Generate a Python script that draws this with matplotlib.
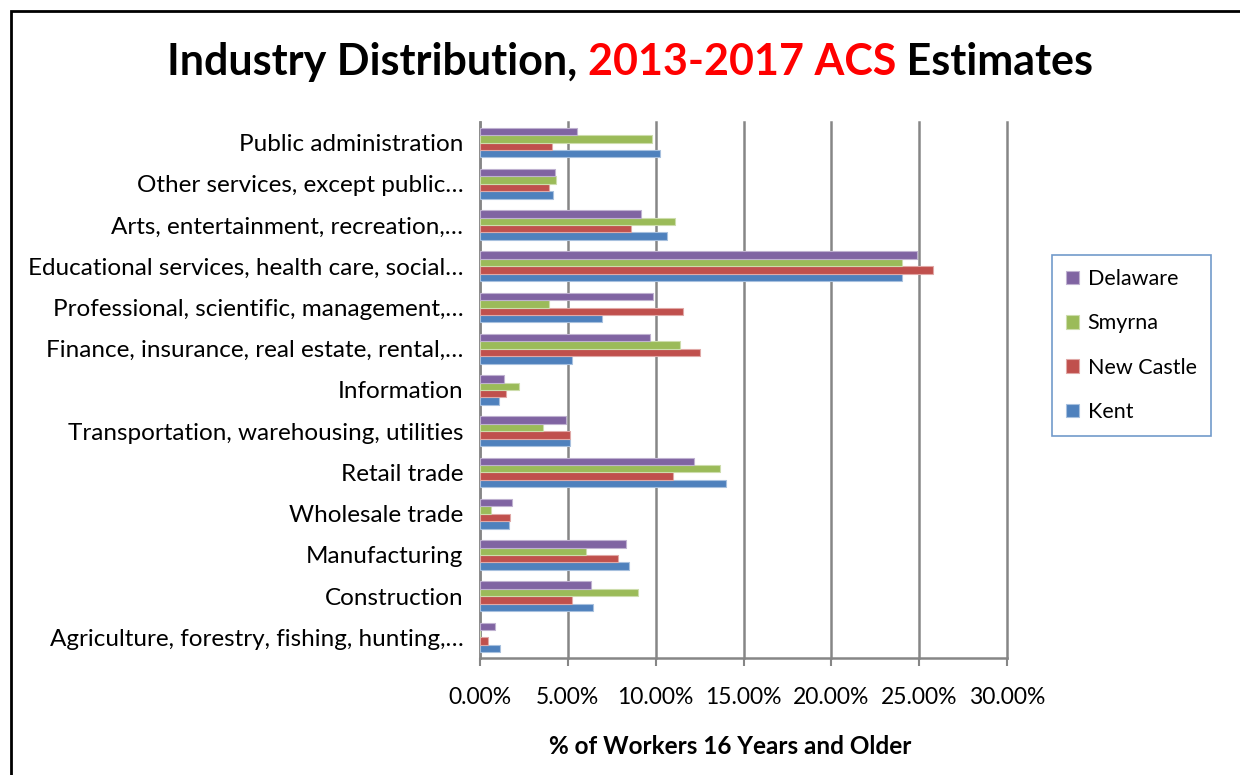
import numpy as np
import matplotlib
matplotlib.use("Agg")
from matplotlib import pyplot as plt
from matplotlib.patches import Rectangle

plt.rcParams['font.family'] = ['Lato', 'DejaVu Sans']

# kategorije odozdo prema gore
kategorije = [
    "Agriculture, forestry, fishing, hunting,…",
    "Construction",
    "Manufacturing",
    "Wholesale trade",
    "Retail trade",
    "Transportation, warehousing, utilities",
    "Information",
    "Finance, insurance, real estate, rental,…",
    "Professional, scientific, management,…",
    "Educational services, health care, social…",
    "Arts, entertainment, recreation,…",
    "Other services, except public…",
    "Public administration",
]

# postoci radnika po okrugu
kent = [1.12, 6.46, 8.47, 1.67, 14.03, 5.13, 1.08, 5.22, 6.93, 24.04, 10.65, 4.18, 10.27]
new_castle = [0.46, 5.24, 7.88, 1.69, 10.96, 5.15, 1.50, 12.51, 11.53, 25.77, 8.58, 3.91, 4.08]
smyrna = [0.0, 9.00, 6.06, 0.64, 13.67, 3.59, 2.20, 11.41, 3.95, 24.04, 11.11, 4.35, 9.80]
delaware = [0.83, 6.34, 8.32, 1.84, 12.19, 4.92, 1.35, 9.70, 9.87, 24.88, 9.19, 4.29, 5.53]

serije = ["Kent", "New Castle", "Smyrna", "Delaware"]
vrijednosti = [kent, new_castle, smyrna, delaware]
boje = ["#4F81BD", "#C0504D", "#9BBB59", "#8064A2"]
rubovi = ["#A7C0DE", "#E0A8A6", "#CDDDAC", "#BFB1D0"]

x_ticks = [0, 5, 10, 15, 20, 25, 30]

fig = plt.figure(figsize=(12.4, 7.75), dpi=100)
ax = fig.add_axes([480 / 1240, 1 - 658 / 775, 527 / 1240, 536 / 775])

y = np.arange(len(kategorije))
h = 0.18
for i, (ime, vals, c, e) in enumerate(zip(serije, vrijednosti, boje, rubovi)):
    ax.barh(y + (i - 1.5) * h, vals, height=h, color=c, edgecolor=e,
            linewidth=0.8, label=ime, zorder=3)

ax.set_xlim(0, 30)
ax.set_ylim(-0.5, len(kategorije) - 0.5)
ax.set_xticks(x_ticks)
ax.set_xticklabels([f"{t:.2f}%" for t in x_ticks], fontsize=16.5)
ax.set_yticks(y)
ax.set_yticklabels(kategorije, fontsize=17.5)
ax.tick_params(axis='y', length=0, pad=12)
ax.tick_params(axis='x', length=6, width=1.5, color="#868686", pad=15)
ax.grid(axis='x', color="#868686", linewidth=1.8, zorder=0)
for gl in ax.get_xgridlines():
    gl.set_clip_on(False)
for s in ["top", "right"]:
    ax.spines[s].set_visible(False)
for s in ["left", "bottom"]:
    ax.spines[s].set_color("#868686")
    ax.spines[s].set_linewidth(1.8)

fig.text(730 / 1240, 1 - 746 / 775, "% of Workers 16 Years and Older",
         fontsize=17.5, fontweight='bold', ha='center', va='center')

# legenda obrnutim redom
hnd, lab = ax.get_legend_handles_labels()
leg = fig.legend(hnd[::-1], lab[::-1], loc='upper left',
                 bbox_to_anchor=(1052 / 1240, 1 - 255 / 775), fontsize=15.5,
                 frameon=True, fancybox=False, labelspacing=1.13,
                 handlelength=0.6, handleheight=0.6, handletextpad=0.4,
                 borderpad=0.65, borderaxespad=0)
leg.get_frame().set_edgecolor("#4F81BD")
leg.get_frame().set_linewidth(1.2)

# naslov u tri dijela
dijelovi = [("Industry Distribution, ", "black"), ("2013-2017 ACS", "#FF0000"),
            (" Estimates", "black")]
fig.canvas.draw()
r = fig.canvas.get_renderer()
tekstovi = []
for t, c in dijelovi:
    tx = fig.text(0, 1 - 62 / 775, t, fontsize=31, fontweight='bold', color=c,
                  ha='left', va='center')
    tekstovi.append(tx)
sirine = [tx.get_window_extent(r).width for tx in tekstovi]
x0 = 630 - sum(sirine) / 2
for tx, w in zip(tekstovi, sirine):
    tx.set_x(x0 / 1240)
    x0 += w

fig.patches.append(Rectangle((11 / 1240, -0.1), 1.2, 1 - 11 / 775 + 0.1,
                             transform=fig.transFigure, fill=False,
                             edgecolor='black', linewidth=2))

fig.savefig("out.png", dpi=100)
